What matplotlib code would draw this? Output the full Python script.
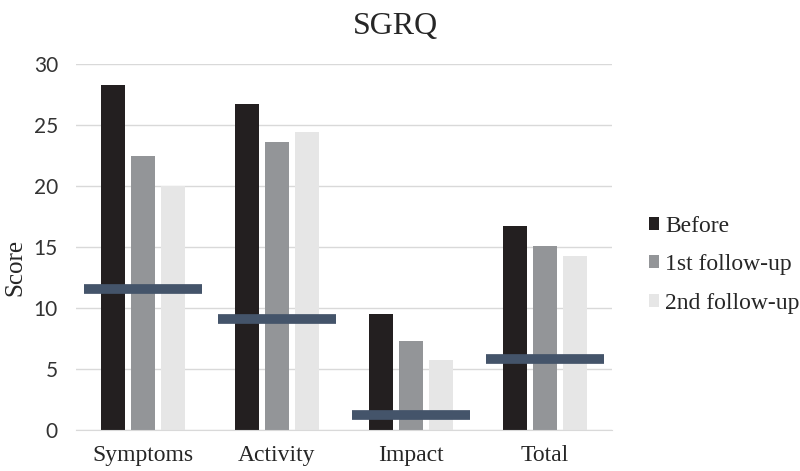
import numpy as np
import matplotlib.pyplot as plt

# datos
categorias = ["Symptoms", "Activity", "Impact", "Total"]
series = ["Before", "1st follow-up", "2nd follow-up"]
antes = [28.3, 26.7, 9.5, 16.75]
seguimiento1 = [22.5, 23.6, 7.3, 15.1]
seguimiento2 = [20.0, 24.4, 5.75, 14.3]
referencia = [11.6, 9.1, 1.2, 5.8]

colores = ["#231f20", "#939598", "#e6e6e6"]
color_ref = "#44546a"

fig = plt.figure(figsize=(8, 4.71), dpi=100)
ax = fig.add_axes([0.095, 0.087, 0.67, 0.777])

x = np.arange(len(categorias))
ancho = 0.179
paso = 0.224
for i, (vals, nombre) in enumerate(zip([antes, seguimiento1, seguimiento2], series)):
    ax.bar(x + (i - 1) * paso, vals, width=ancho, color=colores[i], label=nombre, zorder=2)

ax.hlines(referencia, x - 0.44, x + 0.44, colors=color_ref, linewidth=7, zorder=3)

ax.set_xlim(-0.5, 3.5)
ax.set_ylim(0, 30)
ax.set_yticks(range(0, 31, 5))
ax.yaxis.grid(True, color="#d9d9d9", linewidth=1, zorder=0)
for s in ["top", "right", "left"]:
    ax.spines[s].set_visible(False)
ax.spines["bottom"].set_color("#d9d9d9")
ax.tick_params(axis="both", length=0)
ax.tick_params(axis="y", pad=13, labelsize=15, labelcolor="#333333")
ax.tick_params(axis="x", pad=11)
for t in ax.get_yticklabels():
    t.set_family("Lato")
ax.set_xticks(x)
ax.set_xticklabels(categorias, family="Liberation Serif", fontsize=17, color="#262626")
ax.set_ylabel("Score", family="Liberation Serif", fontsize=18, color="#262626")
ax.yaxis.set_label_coords(-0.092, 0.445)

fig.text(0.494, 0.975, "SGRQ", ha="center", va="top", family="Liberation Serif",
         fontsize=23, color="#262626")

fig.legend(loc="center left", bbox_to_anchor=(0.811, 0.438), frameon=False,
           prop={"family": "Liberation Serif", "size": 17},
           handlelength=0.45, handleheight=0.45, handletextpad=0.25,
           labelspacing=0.74, borderpad=0, borderaxespad=0, labelcolor="#262626")

fig.savefig("out.png", dpi=100)
